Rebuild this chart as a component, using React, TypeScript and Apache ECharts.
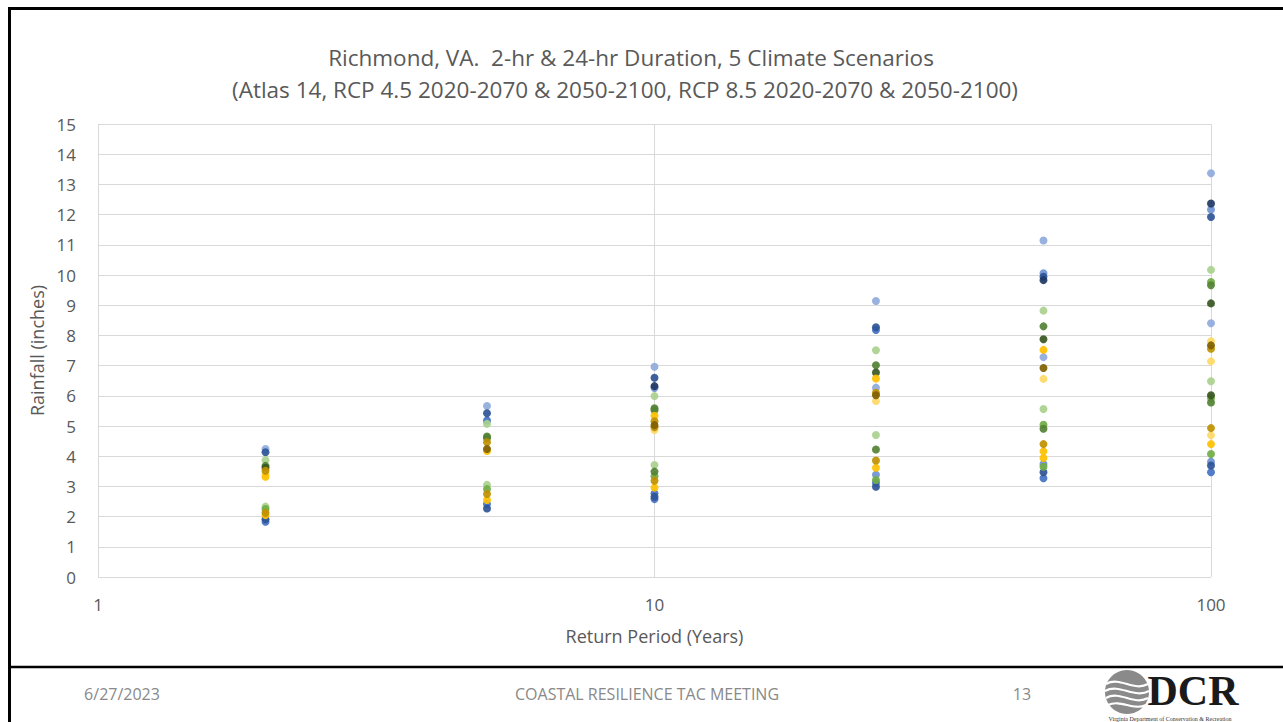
import React, { useEffect, useRef } from "react";
import * as echarts from "echarts";

const titleLines = [
  "Richmond, VA.  2-hr & 24-hr Duration, 5 Climate Scenarios",
  "(Atlas 14, RCP 4.5 2020-2070 & 2050-2100, RCP 8.5 2020-2070 & 2050-2100)",
];
const xAxisName = "Return Period (Years)";
const yAxisName = "Rainfall (inches)";
const footerDate = "6/27/2023";
const footerTitle = "COASTAL RESILIENCE TAC MEETING";
const footerPage = "13";

// [return period (years), rainfall (inches)]
const lightBlue = [[2, 4.24], [5, 5.66], [10, 6.96], [25, 9.14], [25, 6.27], [50, 11.14], [50, 7.28], [100, 13.37], [100, 8.4]];
const mediumBlue = [[10, 6.26], [25, 3.39], [50, 10.06], [50, 3.74], [100, 12.17], [100, 3.82]];
const blue = [[2, 1.83], [5, 5.18], [5, 2.42], [10, 2.77], [10, 2.58], [25, 8.18], [25, 3.12], [50, 3.27], [100, 3.47]];
const darkBlue = [[2, 4.13], [2, 1.91], [5, 5.42], [5, 2.27], [10, 6.6], [10, 2.66], [25, 8.27], [25, 2.99], [50, 9.94], [50, 3.47], [100, 11.92], [100, 3.69]];
const navy = [[10, 6.32], [50, 9.83], [100, 12.37]];
const lightGreen = [[2, 3.87], [2, 2.33], [5, 5.07], [5, 3.05], [10, 5.99], [10, 3.71], [25, 7.51], [25, 4.7], [50, 8.82], [50, 5.56], [100, 10.17], [100, 6.48]];
const green = [[2, 2.25], [5, 2.91], [10, 3.34], [25, 3.21], [50, 5.04], [50, 3.65], [100, 9.77], [100, 5.93], [100, 4.07]];
const darkGreen = [[2, 3.68], [5, 4.65], [5, 4.6], [10, 5.59], [10, 5.52], [10, 3.49], [25, 7.01], [25, 4.22], [50, 8.3], [50, 4.91], [100, 9.66], [100, 5.78]];
const deepGreen = [[2, 3.62], [25, 6.77], [50, 7.87], [100, 9.06], [100, 6.02]];
const lightYellow = [[2, 3.41], [10, 4.87], [25, 5.83], [50, 6.56], [100, 7.81], [100, 7.14], [100, 4.69]];
const yellow = [[2, 3.32], [2, 2.05], [5, 4.17], [5, 2.55], [10, 5.34], [10, 2.96], [25, 6.57], [25, 3.62], [50, 7.52], [50, 4.16], [50, 3.94], [100, 4.4]];
const gold = [[2, 3.52], [2, 2.13], [5, 4.46], [5, 2.75], [10, 5.16], [10, 4.96], [10, 3.19], [25, 6.1], [25, 3.86], [50, 4.4], [100, 7.56], [100, 4.93]];
const darkGold = [[5, 4.24], [10, 5.03], [25, 6.02], [50, 6.92], [100, 7.67]];

const seriesList = [
  { name: "Light blue", data: lightBlue, color: "#8FAADC" },
  { name: "Medium blue", data: mediumBlue, color: "#6F93D3" },
  { name: "Blue", data: blue, color: "#4472C4" },
  { name: "Dark blue", data: darkBlue, color: "#2F5597" },
  { name: "Navy", data: navy, color: "#203864" },
  { name: "Light green", data: lightGreen, color: "#A9D18E" },
  { name: "Green", data: green, color: "#70AD47" },
  { name: "Dark green", data: darkGreen, color: "#548235" },
  { name: "Deep green", data: deepGreen, color: "#385723" },
  { name: "Light yellow", data: lightYellow, color: "#FFD966" },
  { name: "Yellow", data: yellow, color: "#FFC000" },
  { name: "Gold", data: gold, color: "#BF9000" },
  { name: "Dark gold", data: darkGold, color: "#7F6000" },
];

const wave = (cx: number, cy: number, r: number, dy: number, amp: number) => ({
  type: "bezierCurve",
  shape: {
    x1: cx - r, y1: cy + dy,
    x2: cx + r, y2: cy + dy,
    cpx1: cx - r / 3, cpy1: cy + dy - amp,
    cpx2: cx + r / 3, cpy2: cy + dy + amp,
  },
  style: { stroke: "#ffffff", lineWidth: 2.2, fill: null },
  z: 20,
});

export default function App() {
  const ref = useRef<HTMLDivElement>(null);
  useEffect(() => {
    if (!ref.current) return;
    const chart = echarts.init(ref.current, undefined, { renderer: "svg" });
    const font = "'Open Sans', 'Liberation Sans', sans-serif";
    const grayText = "#595959";
    const option: any = {
      animation: false,
      backgroundColor: "#ffffff",
      textStyle: { fontFamily: font },
      grid: { left: 98, right: 72, top: 124, bottom: 145, containLabel: false },
      xAxis: {
        type: "log",
        logBase: 10,
        min: 1,
        max: 100,
        name: xAxisName,
        nameLocation: "middle",
        nameGap: 50,
        nameTextStyle: { fontSize: 18, color: grayText, fontFamily: font },
        axisLine: { show: false },
        axisTick: { show: false },
        axisLabel: { fontSize: 17, color: grayText, margin: 19, fontFamily: font },
        splitLine: { show: true, lineStyle: { color: "#D9D9D9", width: 1 } },
        minorSplitLine: { show: false },
      },
      yAxis: {
        type: "value",
        min: 0,
        max: 15,
        interval: 1,
        name: yAxisName,
        nameLocation: "middle",
        nameGap: 50,
        nameRotate: 90,
        nameTextStyle: { fontSize: 18, color: grayText, fontFamily: font },
        axisLine: { show: false },
        axisTick: { show: false },
        axisLabel: { fontSize: 17, color: grayText, margin: 22, fontFamily: font },
        splitLine: { show: true, lineStyle: { color: "#D9D9D9", width: 1 } },
      },
      series: seriesList.map((s) => ({
        name: s.name,
        type: "scatter",
        data: s.data,
        symbol: "circle",
        symbolSize: 8,
        itemStyle: { color: s.color, opacity: 0.92 },
      })),
      graphic: [
        {
          type: "text",
          x: 631,
          y: 57,
          style: { text: titleLines[0], fontSize: 22.5, fill: grayText, fontFamily: font, align: "center", verticalAlign: "middle" },
        },
        {
          type: "text",
          x: 625,
          y: 89,
          style: { text: titleLines[1], fontSize: 22.5, fill: grayText, fontFamily: font, align: "center", verticalAlign: "middle" },
        },
        { type: "line", shape: { x1: 9.5, y1: 7, x2: 9.5, y2: 722 }, style: { stroke: "#000", lineWidth: 3 }, z: 10 },
        { type: "line", shape: { x1: 8, y1: 8.5, x2: 1283, y2: 8.5 }, style: { stroke: "#000", lineWidth: 3 }, z: 10 },
        { type: "line", shape: { x1: 8, y1: 667, x2: 1283, y2: 667 }, style: { stroke: "#000", lineWidth: 2.5 }, z: 10 },
        {
          type: "text",
          x: 122,
          y: 694,
          style: { text: footerDate, fontSize: 16, fill: "#898989", fontFamily: font, align: "center", verticalAlign: "middle" },
        },
        {
          type: "text",
          x: 647,
          y: 694,
          style: { text: footerTitle, fontSize: 16, fill: "#898989", fontFamily: font, align: "center", verticalAlign: "middle" },
        },
        {
          type: "text",
          x: 1022,
          y: 694,
          style: { text: footerPage, fontSize: 16, fill: "#898989", fontFamily: font, align: "center", verticalAlign: "middle" },
        },
        { type: "circle", shape: { cx: 1127, cy: 692, r: 22 }, style: { fill: "#8a8a8a" }, z: 15 },
        wave(1127, 692, 21, -8, 8),
        wave(1127, 692, 22, -1, 8),
        wave(1127, 692, 21, 6, 8),
        wave(1127, 692, 19, 13, 6),
        {
          type: "text",
          x: 1193,
          y: 691,
          style: {
            text: "DCR",
            fontSize: 42,
            fontWeight: "bold",
            fill: "#1a1a1a",
            fontFamily: "'Liberation Serif', 'DejaVu Serif', serif",
            align: "center",
            verticalAlign: "middle",
          },
          z: 15,
        },
        {
          type: "text",
          x: 1170,
          y: 718.5,
          style: {
            text: "Virginia Department of Conservation & Recreation",
            fontSize: 6,
            fill: "#333",
            fontFamily: "'Liberation Serif', serif",
            align: "center",
            verticalAlign: "middle",
          },
          z: 15,
        },
      ],
    };
    chart.setOption(option);
    return () => chart.dispose();
  }, []);
  return (
    <div style={{ position: "absolute", left: 0, top: 0, width: 1283, height: 722, background: "#fff" }}>
      <div ref={ref} style={{ width: 1283, height: 722 }} />
    </div>
  );
}
